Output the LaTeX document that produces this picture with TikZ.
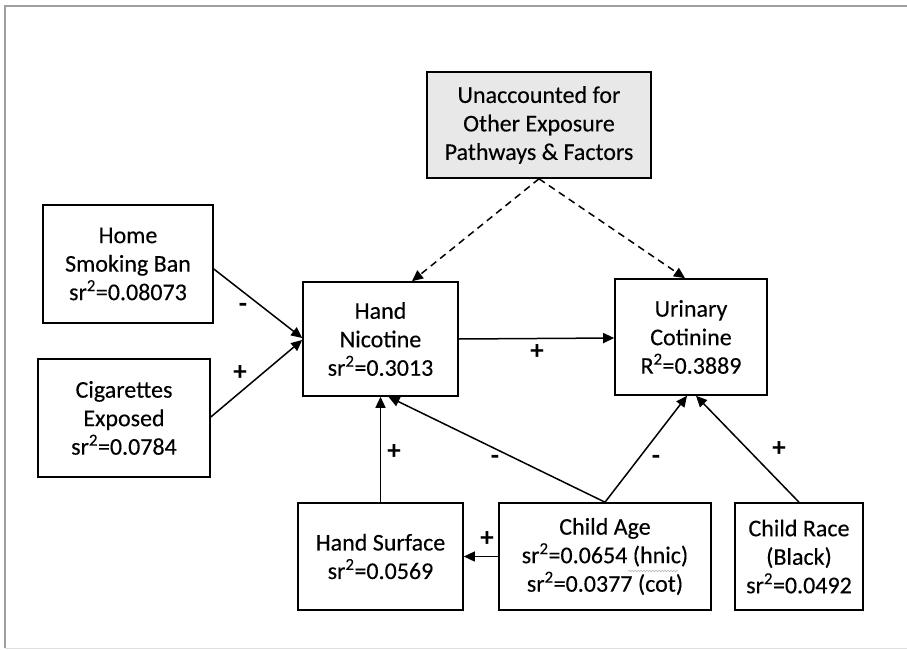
\documentclass[tikz,border=0pt]{standalone}
\usepackage{fontspec}
\setmainfont{Carlito}
\newfontfamily\boxfont[FakeBold=0.25]{Carlito}
\usetikzlibrary{arrows.meta,decorations.pathmorphing}
\begin{document}
\begin{tikzpicture}[x=1pt,y=-1pt,
  box/.style={draw=black,line width=1.6pt,fill=white,align=center,inner sep=0pt,
    font=\boxfont\fontsize{24}{28.5}\selectfont},
  greybox/.style={box,fill=gray!18},
  conn/.style={line width=1.5pt,-{Triangle[length=11pt,width=10pt]}},
  dconn/.style={conn,dashed,dash pattern=on 7pt off 5pt},
  sign/.style={font=\fontsize{27}{30}\selectfont\bfseries,inner sep=0pt}]
\useasboundingbox (0,0) rectangle (907,650);
% frame
\draw[line width=1.4pt,gray!75] (907,6) -- (5,6) -- (5,648);
\draw[line width=1.2pt,gray!25] (5,648.5) -- (907,648.5);
% nodes
\node[greybox,minimum width=224pt,minimum height=106pt] (unacc) at (539,125) {Unaccounted for\\Other Exposure\\Pathways \& Factors};
\node[box,minimum width=170pt,minimum height=118pt] (home) at (128,264) {Home\\Smoking Ban\\sr\textsuperscript{2}=0.08073};
\node[box,minimum width=172pt,minimum height=118pt] (cig) at (124,418) {Cigarettes\\Exposed\\sr\textsuperscript{2}=0.0784};
\node[box,minimum width=155pt,minimum height=114pt] (hn) at (380.5,339) {Hand\\Nicotine\\sr\textsuperscript{2}=0.3013};
\node[box,minimum width=152pt,minimum height=116pt] (uc) at (691,337) {Urinary\\Cotinine\\R\textsuperscript{2}=0.3889};
\node[box,minimum width=165pt,minimum height=107pt] (hs) at (380.5,556.5) {Hand Surface\\sr\textsuperscript{2}=0.0569};
\node[box,minimum width=212pt,minimum height=107pt] (ca) at (605,556.5) {Child Age\\sr\textsuperscript{2}=0.0654 (hnic)\\sr\textsuperscript{2}=0.0377 (cot)};
\node[box,minimum width=128pt,minimum height=107pt] (cr) at (799,556.5) {Child Race\\(Black)\\sr\textsuperscript{2}=0.0492};
% spell-check squiggle under "hnic"
\draw[gray!60,line width=0.5pt,decorate,decoration={snake,segment length=3pt,amplitude=0.8pt}] (628,571) -- (678,571);
% connectors
\draw[conn] ([yshift=-5pt]home.east) -- ([yshift=1pt]hn.west);
\draw[conn] ([yshift=1pt]cig.east) -- ([yshift=-1pt]hn.west);
\draw[conn] (hn.east) -- ([yshift=-1pt]uc.west);
\draw[dconn] (unacc.south) -- ([xshift=31.5pt]hn.north);
\draw[dconn] (unacc.south) -- ([xshift=-6pt]uc.north);
\draw[conn] (hs.north) -- (hn.south);
\draw[conn] (ca.north) -- ([xshift=8pt]hn.south);
\draw[conn] (ca.north) -- ([xshift=-4pt]uc.south);
\draw[conn] (cr.north) -- ([xshift=5pt]uc.south);
\draw[conn] (ca.west) -- (hs.east);
% signs
\node[sign] (s1) at (243,308) {-};
\node[sign] (s2) at (240,373) {+};
\node[sign] (s3) at (537,352) {+};
\node[sign] (s4) at (394,452) {+};
\node[sign] (s5) at (495,460) {-};
\node[sign] (s6) at (656,460) {-};
\node[sign] (s7) at (779,449) {+};
\node[sign] (s8) at (487,539) {+};
\end{tikzpicture}
\end{document}
